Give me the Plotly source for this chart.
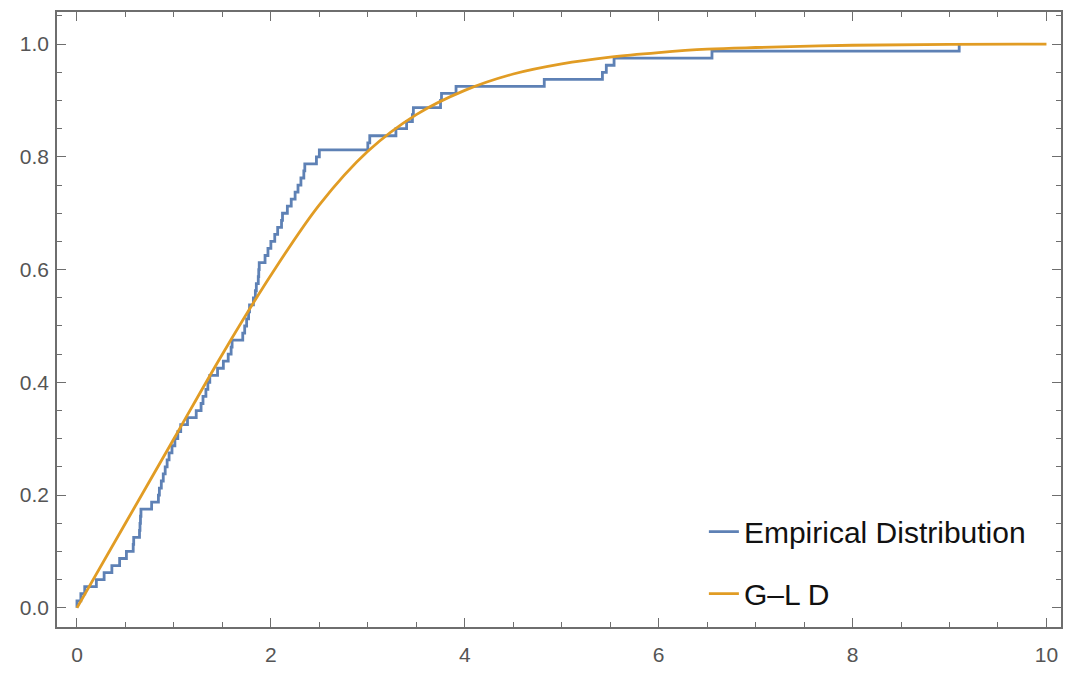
import plotly.graph_objects as go

# Sorted sample values underlying the empirical CDF (read from the steps)
sample_x = [0.00, 0.04, 0.08, 0.20, 0.28, 0.36, 0.44, 0.51, 0.58, 0.585,
            0.645, 0.65, 0.655, 0.66, 0.77, 0.84, 0.85, 0.87, 0.89, 0.91,
            0.93, 0.95, 0.98, 1.01, 1.04, 1.07, 1.14, 1.23, 1.28, 1.30,
            1.33, 1.35, 1.37, 1.45, 1.51, 1.56, 1.59, 1.60, 1.71, 1.73,
            1.75, 1.77, 1.78, 1.82, 1.84, 1.85, 1.87, 1.875, 1.88, 1.94,
            1.97, 2.00, 2.04, 2.07, 2.11, 2.12, 2.17, 2.21, 2.25, 2.28,
            2.31, 2.34, 2.35, 2.47, 2.50, 3.00, 3.02, 3.29, 3.40, 3.46,
            3.47, 3.75, 3.76, 3.91, 4.82, 5.42, 5.46, 5.54, 6.55, 9.10]

# Fitted G-L D CDF
gld_x = [0.0, 0.5, 1.0, 1.5, 2.0, 2.5, 3.0, 3.5, 4.0, 4.5, 5.0,
         5.5, 6.0, 6.5, 7.0, 8.0, 9.0, 10.0]
gld_y = [0.0, 0.15, 0.30, 0.45, 0.59, 0.715, 0.81, 0.875, 0.918, 0.947, 0.965,
         0.977, 0.985, 0.991, 0.994, 0.998, 0.9995, 1.0]

series_names = ["Empirical Distribution", "G\u2013L D"]
x_ticks = [0, 2, 4, 6, 8, 10]
y_ticks = [0.0, 0.2, 0.4, 0.6, 0.8, 1.0]

n = len(sample_x)
ecdf_x = [sample_x[0]] + sample_x
ecdf_y = [0.0] + [(i + 1) / n for i in range(n)]

BLUE = "#5E81B5"
ORANGE = "#E19C24"
AX = "#6e6e6e"

fig = go.Figure()
fig.add_trace(go.Scatter(x=ecdf_x, y=ecdf_y, mode="lines", line_shape="hv",
                         line=dict(color=BLUE, width=2.8), name=series_names[0],
                         legendgroup="a"))
fig.add_trace(go.Scatter(x=gld_x, y=gld_y, mode="lines", line_shape="spline",
                         line=dict(color=ORANGE, width=2.8), name=series_names[1],
                         legendgroup="b"))

axis_common = dict(showline=True, mirror="allticks", linecolor=AX, linewidth=1.5,
                   ticks="inside", ticklen=9, tickwidth=1.3, tickcolor=AX,
                   showgrid=False, zeroline=False,
                   tickfont=dict(family="Liberation Sans, Arial", size=21, color="#555555"))

fig.update_xaxes(range=[-0.206, 10.15], tickvals=x_ticks,
                 ticktext=[str(v) for v in x_ticks], ticklabelstandoff=8,
                 minor=dict(ticks="inside", dtick=0.5, ticklen=5, tickcolor=AX, tickwidth=1.1),
                 **axis_common)
fig.update_yaxes(range=[-0.034, 1.057], tickvals=y_ticks,
                 ticktext=[f"{v:.1f}" for v in y_ticks], ticklabelstandoff=2,
                 minor=dict(ticks="inside", dtick=0.05, ticklen=5, tickcolor=AX, tickwidth=1.1),
                 **axis_common)

fig.update_layout(
    width=1065, height=673, autosize=False,
    margin=dict(l=57, r=2, t=12, b=46),
    plot_bgcolor="white", paper_bgcolor="white",
    showlegend=True,
    legend=dict(x=0.97, y=0.012, xanchor="right", yanchor="bottom",
                bgcolor="rgba(0,0,0,0)", tracegroupgap=20,
                font=dict(family="Liberation Sans, Arial", size=30, color="#111111")),
)

fig.write_html("out.html", config={"displayModeBar": False},
               post_script="document.body.style.margin='0';document.body.style.overflow='hidden';")
